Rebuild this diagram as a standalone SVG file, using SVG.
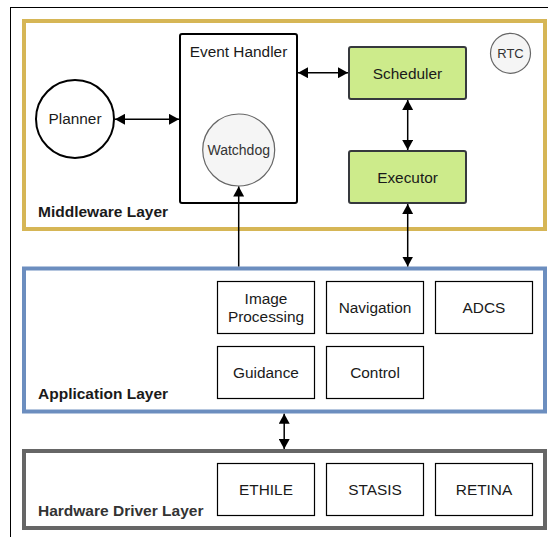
<svg xmlns="http://www.w3.org/2000/svg" width="548" height="537" viewBox="0 0 548 537">
  <style>
    text { font-family: "Liberation Sans", Arial, sans-serif; fill: #1a1a1a; text-anchor: middle; }
    .lbl { font-size: 15.4px; }
    .small { font-size: 14px; fill: #333333; }
    .layer-title { font-size: 15.5px; font-weight: bold; text-anchor: start; }
    .box { fill: #ffffff; stroke: #000000; stroke-width: 1.2; }
    .green { fill: #cdeb8b; stroke: #36393d; stroke-width: 2; }
    .grey-circle { fill: #f5f5f5; stroke: #666666; stroke-width: 1.2; }
    .layer { fill: none; stroke-width: 4; }
    .conn { fill: none; stroke: #000000; stroke-width: 1.5; }
  </style>
  <defs>
    <marker id="block" markerUnits="userSpaceOnUse" markerWidth="11" markerHeight="11" refX="10" refY="5.5" orient="auto-start-reverse">
      <path d="M0,0 L10,5.5 L0,11 z" fill="#000000"/>
    </marker>
  </defs>

  <rect width="548" height="537" fill="#ffffff"/>
  <!-- outer frame -->
  <rect x="10.5" y="7.5" width="600" height="600" fill="none" stroke="#000000" stroke-width="1"/>

  <!-- layers -->
  <g id="middleware-layer">
    <rect class="layer" x="24" y="21" width="521" height="208" stroke="#d6b656"/>
    <text class="layer-title" x="38" y="217">Middleware Layer</text>
  </g>
  <g id="application-layer">
    <rect class="layer" x="24" y="268.5" width="521" height="143" stroke="#6c8ebf"/>
    <text class="layer-title" x="38" y="398.5">Application Layer</text>
  </g>
  <g id="hardware-layer">
    <rect class="layer" x="24" y="451" width="521" height="77" stroke="#666666"/>
    <text class="layer-title" x="38" y="516" style="fill:#333333">Hardware Driver Layer</text>
  </g>

  <!-- middleware nodes -->
  <g id="planner">
    <circle cx="75" cy="119" r="39" fill="#ffffff" stroke="#000000" stroke-width="2"/>
    <text class="lbl" x="75" y="124.4">Planner</text>
  </g>
  <g id="event-handler">
    <rect x="180" y="34" width="117" height="169" rx="2" fill="#ffffff" stroke="#000000" stroke-width="2"/>
    <text class="lbl" x="238.5" y="56.5">Event Handler</text>
  </g>
  <g id="watchdog">
    <circle class="grey-circle" cx="238.7" cy="150" r="36"/>
    <text class="small" x="238.7" y="154.8">Watchdog</text>
  </g>
  <g id="scheduler">
    <rect class="green" x="349" y="47" width="117" height="52" rx="2"/>
    <text class="lbl" x="407.5" y="78.6">Scheduler</text>
  </g>
  <g id="executor">
    <rect class="green" x="349" y="151" width="117" height="52" rx="2"/>
    <text class="lbl" x="407.5" y="182.6">Executor</text>
  </g>
  <g id="rtc">
    <circle class="grey-circle" cx="510.5" cy="53.3" r="20"/>
    <text x="510.5" y="58" style="font-size:13px; fill:#333333">RTC</text>
  </g>

  <!-- application nodes -->
  <g id="image-processing">
    <rect class="box" x="217.5" y="281.5" width="97" height="52"/>
    <text class="lbl" x="266" y="304">Image</text>
    <text class="lbl" x="266" y="321.5">Processing</text>
  </g>
  <g id="navigation">
    <rect class="box" x="326.5" y="281.5" width="97" height="52"/>
    <text class="lbl" x="375" y="312.8">Navigation</text>
  </g>
  <g id="adcs">
    <rect class="box" x="435.5" y="281.5" width="97" height="52"/>
    <text class="lbl" x="484" y="312.8">ADCS</text>
  </g>
  <g id="guidance">
    <rect class="box" x="217.5" y="346.5" width="97" height="52"/>
    <text class="lbl" x="266" y="377.8">Guidance</text>
  </g>
  <g id="control">
    <rect class="box" x="326.5" y="346.5" width="97" height="52"/>
    <text class="lbl" x="375" y="377.8">Control</text>
  </g>

  <!-- hardware nodes -->
  <g id="ethile">
    <rect class="box" x="217.5" y="463.5" width="97" height="52"/>
    <text class="lbl" x="266" y="495">ETHILE</text>
  </g>
  <g id="stasis">
    <rect class="box" x="326.5" y="463.5" width="97" height="52"/>
    <text class="lbl" x="375" y="495">STASIS</text>
  </g>
  <g id="retina">
    <rect class="box" x="435.5" y="463.5" width="97" height="52"/>
    <text class="lbl" x="484" y="495">RETINA</text>
  </g>

  <!-- connectors -->
  <g id="connectors">
    <path class="conn" d="M115,119.3 L179,119.3" marker-start="url(#block)" marker-end="url(#block)"/>
    <path class="conn" d="M298,72.7 L348,72.7" marker-start="url(#block)" marker-end="url(#block)"/>
    <path class="conn" d="M407.7,100 L407.7,150" marker-start="url(#block)" marker-end="url(#block)"/>
    <path class="conn" d="M407.7,204 L407.7,266.5" marker-start="url(#block)" marker-end="url(#block)"/>
    <path class="conn" d="M238.7,266.5 L238.7,186.5" marker-end="url(#block)"/>
    <path class="conn" d="M284.2,413.7 L284.2,449" marker-start="url(#block)" marker-end="url(#block)"/>
  </g>
</svg>
